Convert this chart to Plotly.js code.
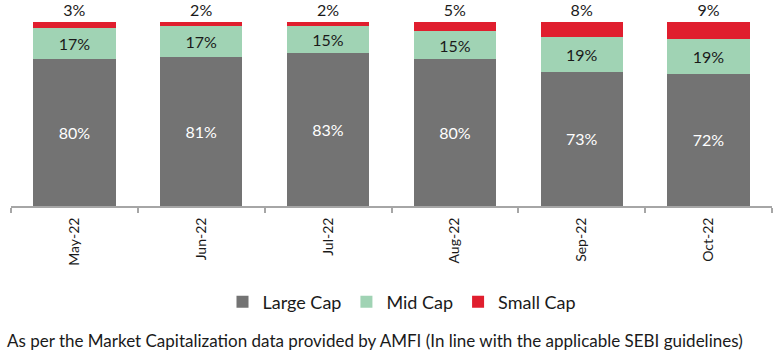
<!DOCTYPE html>
<html>
<head>
<meta charset="utf-8">
<script src="https://cdn.plot.ly/plotly-3.0.1.min.js"></script>
<style>html,body{margin:0;padding:0;background:#fff;}#chart{width:779px;height:360px;}</style>
</head>
<body>
<div id="chart"></div>
<script>
const months = ["May-22", "Jun-22", "Jul-22", "Aug-22", "Sep-22", "Oct-22"];
const largeCap = [80, 81, 83, 80, 73, 72];
const midCap = [17, 17, 15, 15, 19, 19];
const smallCap = [3, 2, 2, 5, 8, 9];
const seriesNames = ["Large Cap", "Mid Cap", "Small Cap"];
const footnote = "As per the Market Capitalization data provided by AMFI (In line with the applicable SEBI guidelines)";

const FONT = "Lato, 'Open Sans', sans-serif";
const pct = v => v.map(x => x + "%");

const traces = [
  {type: "bar", name: seriesNames[0], x: months, y: largeCap, text: pct(largeCap),
   textposition: "inside", insidetextanchor: "middle",
   textfont: {color: "#ffffff", size: 16, family: FONT},
   marker: {color: "#737373"}, hoverinfo: "skip"},
  {type: "bar", name: seriesNames[1], x: months, y: midCap, text: pct(midCap),
   textposition: "inside", insidetextanchor: "middle",
   textfont: {color: "#1a1a1a", size: 16, family: FONT},
   marker: {color: "#a0d3b4"}, hoverinfo: "skip"},
  {type: "bar", name: seriesNames[2], x: months, y: smallCap, text: pct(smallCap),
   textposition: "outside", cliponaxis: false,
   textfont: {color: "#1a1a1a", size: 16, family: FONT},
   marker: {color: "#e01e2e"}, hoverinfo: "skip"}
];

const W = 779, H = 360, ml = 11, mr = 7, mt = 22, mb = 154;
const pw = W - ml - mr, ph = H - mt - mb;

const layout = {
  width: W, height: H,
  margin: {l: ml, r: mr, t: mt, b: mb, pad: 0},
  barmode: "stack", bargap: 0.35,
  paper_bgcolor: "#ffffff", plot_bgcolor: "#ffffff",
  font: {family: FONT, color: "#1a1a1a"},
  showlegend: true,
  legend: {orientation: "h", x: (402 - ml) / pw, xanchor: "center",
           y: -(302 - (mt + ph)) / ph, yanchor: "middle",
           font: {size: 18, family: FONT, color: "#1a1a1a"},
           itemwidth: 30, traceorder: "normal"},
  xaxis: {type: "category", tickangle: -90, tickson: "boundaries",
          ticks: "outside", ticklen: 5, tickwidth: 2, tickcolor: "#a6a6a6",
          ticklabelstandoff: 4,
          showline: true, linecolor: "#a6a6a6", linewidth: 2,
          showgrid: false, zeroline: false,
          tickfont: {size: 14, family: FONT, color: "#1a1a1a"}},
  yaxis: {range: [0, 100], visible: false, showgrid: false, zeroline: false, fixedrange: true},
  annotations: [{
    text: footnote, showarrow: false, xref: "paper", yref: "paper",
    x: (5 - ml) / pw, xanchor: "left",
    y: -(340 - (mt + ph)) / ph, yanchor: "middle",
    font: {size: 17, family: FONT, color: "#1a1a1a"}
  }]
};

Plotly.newPlot("chart", traces, layout, {staticPlot: true, displayModeBar: false});
</script>
</body>
</html>
